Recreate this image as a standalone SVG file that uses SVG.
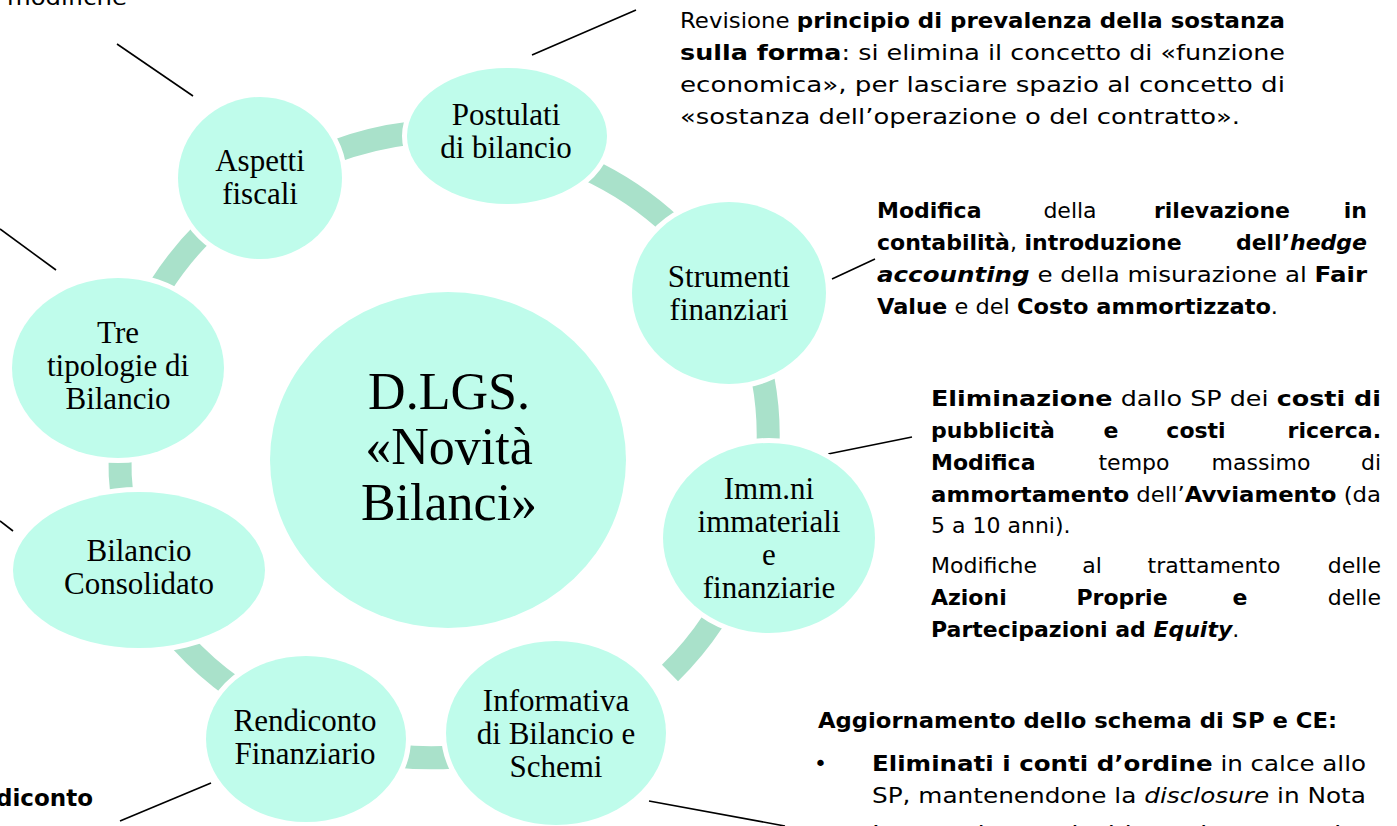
<svg xmlns="http://www.w3.org/2000/svg" width="1397" height="826" viewBox="0 0 1397 826">
<style>
.node{fill:#BFFCEB;stroke:#fff;stroke-width:10;paint-order:stroke}
.nt{font-family:"Liberation Serif","Times New Roman",serif;font-size:31px;fill:#000;text-anchor:middle}
.ct{font-family:"Liberation Serif","Times New Roman",serif;font-size:52px;fill:#000;text-anchor:middle}
.arc{fill:none;stroke:#A9E1CA;stroke-width:23}
.lead{stroke:#000;stroke-width:1.6;fill:none}
.tx{font-family:"DejaVu Sans","Liberation Sans",sans-serif;font-size:22px;fill:#000}
.b{font-weight:bold}
.i{font-style:italic}
.m{text-anchor:middle}
.e{text-anchor:end}
</style>
<rect width="1397" height="826" fill="#fff"/>
<g id="connectors">
<path class="arc" d="M333,152 A325,312 0 0 1 411,133"/>
<path class="arc" d="M585,168 A325,312 0 0 1 673,227"/>
<path class="arc" d="M763,379 A325,312 0 0 1 768,446"/>
<path class="arc" d="M713,621 A325,312 0 0 1 670,673"/>
<path class="arc" d="M455,757 A325,312 0 0 1 396,756"/>
<path class="arc" d="M234,688 A325,312 0 0 1 182,642"/>
<path class="arc" d="M122,497 A325,312 0 0 1 120,454"/>
<path class="arc" d="M160,287 A325,312 0 0 1 204,232"/>
<line class="lead" x1="117" y1="44" x2="193" y2="96"/>
<line class="lead" x1="532" y1="55" x2="636" y2="10"/>
<line class="lead" x1="832" y1="279" x2="875" y2="259"/>
<line class="lead" x1="828" y1="454" x2="912" y2="437"/>
<line class="lead" x1="649" y1="801" x2="785" y2="826"/>
<line class="lead" x1="211" y1="783" x2="120" y2="821"/>
<line class="lead" x1="0" y1="521" x2="13" y2="531"/>
<line class="lead" x1="0" y1="229" x2="56" y2="270"/>
</g>
<g id="node-center">
<ellipse class="node" cx="448" cy="460" rx="178" ry="168"/>
<text class="ct" x="449" y="409">D.LGS.</text>
<text class="ct" x="449" y="464">«Novità</text>
<text class="ct" x="449" y="520">Bilanci»</text>
</g>
<g id="node-postulati">
<ellipse class="node" cx="507" cy="136" rx="100" ry="68"/>
<text class="nt" x="506" y="125">Postulati</text>
<text class="nt" x="506" y="158">di bilancio</text>
</g>
<g id="node-strumenti">
<ellipse class="node" cx="729" cy="293" rx="97" ry="91"/>
<text class="nt" x="729" y="287">Strumenti</text>
<text class="nt" x="729" y="320">finanziari</text>
</g>
<g id="node-immobilizzazioni">
<ellipse class="node" cx="769" cy="538" rx="106" ry="95"/>
<text class="nt" x="769" y="499">Imm.ni</text>
<text class="nt" x="769" y="532">immateriali</text>
<text class="nt" x="769" y="565">e</text>
<text class="nt" x="769" y="598">finanziarie</text>
</g>
<g id="node-informativa">
<ellipse class="node" cx="556" cy="733" rx="110" ry="92"/>
<text class="nt" x="556" y="711">Informativa</text>
<text class="nt" x="556" y="744">di Bilancio e</text>
<text class="nt" x="556" y="777">Schemi</text>
</g>
<g id="node-rendiconto">
<ellipse class="node" cx="306" cy="739" rx="100" ry="83"/>
<text class="nt" x="305" y="731">Rendiconto</text>
<text class="nt" x="305" y="764">Finanziario</text>
</g>
<g id="node-consolidato">
<ellipse class="node" cx="139" cy="570" rx="126" ry="78"/>
<text class="nt" x="139" y="561">Bilancio</text>
<text class="nt" x="139" y="594">Consolidato</text>
</g>
<g id="node-tipologie">
<ellipse class="node" cx="118" cy="368" rx="106" ry="90"/>
<text class="nt" x="118" y="343">Tre</text>
<text class="nt" x="118" y="376">tipologie di</text>
<text class="nt" x="118" y="409">Bilancio</text>
</g>
<g id="node-fiscali">
<ellipse class="node" cx="260" cy="178" rx="82" ry="81"/>
<text class="nt" x="260" y="171">Aspetti</text>
<text class="nt" x="260" y="204">fiscali</text>
</g>
<g id="note-topleft" class="tx">
<text x="7" y="5" textLength="120" lengthAdjust="spacingAndGlyphs">modifiche</text>
</g>
<g id="note-postulati" class="tx">
<text x="680" y="28" textLength="605" lengthAdjust="spacingAndGlyphs">Revisione <tspan class="b">principio di prevalenza della sostanza</tspan></text>
<text x="680" y="60" textLength="605" lengthAdjust="spacingAndGlyphs"><tspan class="b">sulla forma</tspan>: si elimina il concetto di «funzione</text>
<text x="680" y="92" textLength="605" lengthAdjust="spacingAndGlyphs">economica», per lasciare spazio al concetto di</text>
<text x="680" y="124" textLength="560" lengthAdjust="spacingAndGlyphs">«sostanza dell’operazione o del contratto».</text>
</g>
<g id="note-strumenti" class="tx">
<text y="218"><tspan class="b" x="877">Modifica</tspan><tspan class="m" x="1070"> della </tspan><tspan class="b m" x="1222">rilevazione</tspan><tspan class="b e" x="1367"> in</tspan></text>
<text y="250"><tspan x="877"><tspan class="b">contabilità</tspan>,</tspan><tspan class="b m" x="1103"> introduzione </tspan><tspan class="e" x="1367"><tspan class="b">dell’</tspan><tspan class="b i">hedge</tspan></tspan></text>
<text x="877" y="282" textLength="490" lengthAdjust="spacingAndGlyphs"><tspan class="b i">accounting</tspan> e della misurazione al <tspan class="b">Fair</tspan></text>
<text x="877" y="314" textLength="401" lengthAdjust="spacingAndGlyphs"><tspan class="b">Value</tspan> e del <tspan class="b">Costo ammortizzato</tspan>.</text>
</g>
<g id="note-immobilizzazioni" class="tx">
<text x="931" y="406" textLength="450" lengthAdjust="spacingAndGlyphs"><tspan class="b">Eliminazione</tspan> dallo SP dei <tspan class="b">costi di</tspan></text>
<text y="438" class="b"><tspan x="931">pubblicità</tspan><tspan class="m" x="1111"> e </tspan><tspan class="m" x="1196">costi</tspan><tspan class="e" x="1381"> ricerca.</tspan></text>
<text y="470"><tspan class="b" x="931">Modifica</tspan><tspan class="m" x="1134"> tempo </tspan><tspan class="m" x="1261">massimo</tspan><tspan class="e" x="1381"> di</tspan></text>
<text x="931" y="502" textLength="450" lengthAdjust="spacingAndGlyphs"><tspan class="b">ammortamento</tspan> dell’<tspan class="b">Avviamento</tspan> (da</text>
<text x="931" y="533">5 a 10 anni).</text>
<text y="573"><tspan x="931">Modifiche</tspan><tspan class="m" x="1092"> al </tspan><tspan class="m" x="1214">trattamento</tspan><tspan class="e" x="1381"> delle</tspan></text>
<text y="605"><tspan class="b" x="931">Azioni</tspan><tspan class="b m" x="1122"> Proprie </tspan><tspan class="b m" x="1240">e</tspan><tspan class="e" x="1381"> delle</tspan></text>
<text x="931" y="637"><tspan class="b">Partecipazioni ad </tspan><tspan class="b i">Equity</tspan>.</text>
</g>
<g id="note-informativa" class="tx">
<text x="818" y="728" class="b" textLength="519" lengthAdjust="spacingAndGlyphs">Aggiornamento dello schema di SP e CE:</text>
<text x="814" y="771">•</text>
<text x="872" y="771" textLength="494" lengthAdjust="spacingAndGlyphs"><tspan class="b">Eliminati i conti d’ordine</tspan> in calce allo</text>
<text x="872" y="803" textLength="494" lengthAdjust="spacingAndGlyphs">SP, mantenendone la <tspan class="i">disclosure</tspan> in Nota</text>
<text x="872" y="841" textLength="494" lengthAdjust="spacingAndGlyphs">Integrativa, arricchita nei contenuti e</text>
</g>
<g id="note-rendiconto" class="tx">
<text x="-4" y="806" class="b" font-size="23">diconto</text>
</g>
</svg>
